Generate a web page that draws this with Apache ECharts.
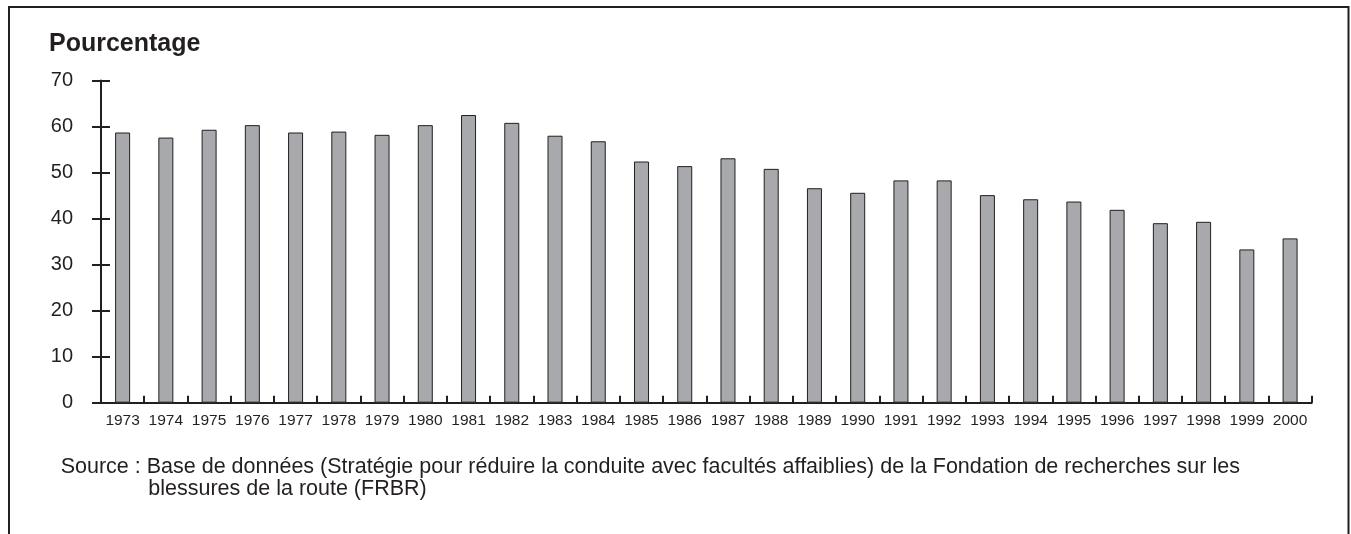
<!DOCTYPE html>
<html>
<head>
<meta charset="utf-8">
<script src="https://cdn.jsdelivr.net/npm/echarts@6/dist/echarts.min.js"></script>
<style>
html,body{margin:0;padding:0;background:#fff;}
#chart{width:1351px;height:534px;}
</style>
</head>
<body>
<div id="chart"></div>
<script>
var years = ['1973','1974','1975','1976','1977','1978','1979','1980','1981','1982','1983','1984','1985','1986','1987','1988','1989','1990','1991','1992','1993','1994','1995','1996','1997','1998','1999','2000'];
var values = [58.7,57.6,59.3,60.3,58.7,58.9,58.2,60.3,62.5,60.8,58.0,56.8,52.4,51.4,53.1,50.8,46.6,45.6,48.3,48.3,45.1,44.2,43.7,41.9,39.0,39.3,33.3,35.7];
var yTicks = [0,10,20,30,40,50,60,70];
var titleText = 'Pourcentage';
var sourceLine1 = 'Source : Base de données (Stratégie pour réduire la conduite avec facultés affaiblies) de la Fondation de recherches sur les';
var sourceLine2 = 'blessures de la route (FRBR)';

var ink = '#231f20';
var font = 'Liberation Sans, Arial, sans-serif';
var chart = echarts.init(document.getElementById('chart'), null, {renderer:'canvas'});
chart.setOption({
  animation:false,
  backgroundColor:'#fff',
  grid:{left:101, right:39.3, top:80.5, bottom:131.3, containLabel:false},
  xAxis:{
    type:'category', data:years, boundaryGap:true,
    axisLine:{show:true, lineStyle:{color:ink, width:2}},
    axisTick:{show:true, inside:true, length:7, alignWithLabel:false, lineStyle:{color:ink, width:2}},
    axisLabel:{color:ink, fontFamily:font, fontSize:15.5, margin:10, interval:0},
    splitLine:{show:false}
  },
  yAxis:[{
    type:'value', min:yTicks[0], max:yTicks[yTicks.length-1], interval:10,
    axisLine:{show:true, lineStyle:{color:ink, width:2}},
    axisTick:{show:true, inside:false, length:9, lineStyle:{color:ink, width:2}},
    axisLabel:{color:ink, fontFamily:font, fontSize:20, margin:28},
    splitLine:{show:false}
  },{
    type:'value', position:'left', min:yTicks[0], max:yTicks[yTicks.length-1], interval:10,
    axisLine:{show:false},
    axisTick:{show:true, inside:true, length:9, lineStyle:{color:ink, width:2}},
    axisLabel:{show:false},
    splitLine:{show:false}
  }],
  series:[{
    type:'bar', data:values, barWidth:15, yAxisIndex:0,
    itemStyle:{color:'#a7a9ac', borderColor:ink, borderWidth:1}
  }],
  graphic:[
    {type:'rect', shape:{x:9, y:7, width:1339.5, height:540}, style:{fill:'none', stroke:ink, lineWidth:2}, silent:true},
    {type:'text', x:49, y:44, style:{text:titleText, fill:ink, font:'bold 25px ' + font, textVerticalAlign:'middle', verticalAlign:'middle'}},
    {type:'text', x:60.7, y:467.5, style:{text:sourceLine1, fill:ink, font:'21.5px ' + font, textVerticalAlign:'middle', verticalAlign:'middle'}},
    {type:'text', x:148.3, y:489.5, style:{text:sourceLine2, fill:ink, font:'21.5px ' + font, textVerticalAlign:'middle', verticalAlign:'middle'}}
  ]
});
</script>
</body>
</html>
